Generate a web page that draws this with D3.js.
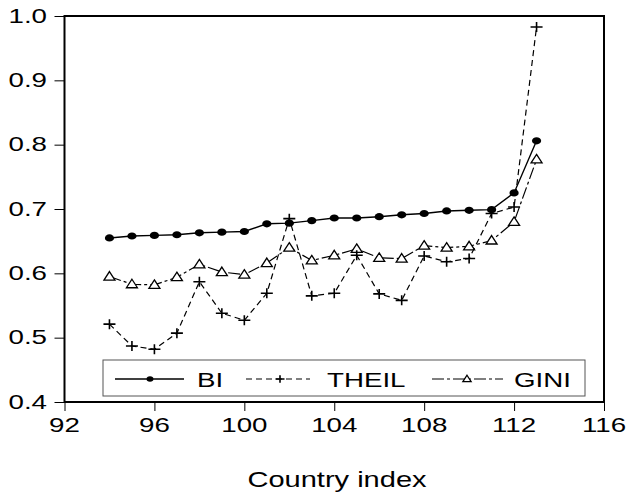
<!DOCTYPE html>
<html><head><meta charset="utf-8">
<script src="https://cdn.jsdelivr.net/npm/d3@7"></script>
<style>body{margin:0;background:#fff}</style>
</head><body>
<script>
const countryIndex = [94,95,96,97,98,99,100,101,102,103,104,105,106,107,108,109,110,111,112,113];
const BI    = [0.655,0.658,0.659,0.660,0.663,0.664,0.665,0.677,0.678,0.682,0.686,0.686,0.688,0.691,0.693,0.697,0.698,0.699,0.725,0.806];
const THEIL = [0.521,0.487,0.482,0.507,0.587,0.538,0.527,0.569,0.685,0.565,0.569,0.628,0.568,0.558,0.627,0.618,0.623,0.693,0.703,0.983];
const GINI  = [0.595,0.583,0.582,0.594,0.614,0.602,0.598,0.616,0.640,0.620,0.628,0.638,0.624,0.623,0.643,0.640,0.642,0.651,0.680,0.777];
const xTicks = [92,96,100,104,108,112,116];
const yTicks = [0.4,0.5,0.6,0.7,0.8,0.9,1.0];
const seriesNames = ["BI","THEIL","GINI"];

const W = 631, H = 495;
const SX = 1.32; // horizontal text stretch
const FONT = "Liberation Sans, Arial, sans-serif";
const svg = d3.select("body").append("svg").attr("width", W).attr("height", H);

const x = d3.scaleLinear().domain([92,116]).range([64.5,604]);
const y = d3.scaleLinear().domain([0.4,1.0]).range([402,16]);

function stext(g, tx, ty, str, anchor, size) {
  g.append("text")
    .attr("transform", `translate(${tx},${ty}) scale(${SX},1)`)
    .attr("text-anchor", anchor)
    .attr("font-family", FONT).attr("font-size", size).attr("fill", "#000")
    .text(str);
}

const gx = svg.append("g").attr("transform", `translate(0,${y(0.4)})`)
  .call(d3.axisBottom(x).tickValues(xTicks).tickSize(9).tickFormat(""));
const gy = svg.append("g").attr("transform", `translate(${x(92)},0)`)
  .call(d3.axisLeft(y).tickValues(yTicks).tickSize(10).tickFormat(""));
[gx, gy].forEach(g => { g.select(".domain").remove(); g.selectAll("line").attr("stroke","#000").attr("stroke-width",1); });

xTicks.forEach(t => stext(svg, x(t), 432, String(t), "middle", 21));
yTicks.forEach(t => stext(svg, 47, y(t) + 6.5, d3.format(".1f")(t), "end", 21));
stext(svg, 337, 487, "Country index", "middle", 22);

svg.append("rect").attr("x", x(92)).attr("y", y(1.0))
  .attr("width", x(116) - x(92)).attr("height", y(0.4) - y(1.0))
  .attr("fill", "none").attr("stroke", "#000").attr("stroke-width", 2);

const styles = {
  BI:    {dash: null, width: 1.4},
  THEIL: {dash: "6,4", width: 1.2},
  GINI:  {dash: "12,3,3,3", width: 1.2}
};
const dataMap = {BI, THEIL, GINI};

function marker(g, name, cx, cy, scale) {
  const s = scale || 1;
  if (name === "BI") {
    g.append("ellipse").attr("cx", cx).attr("cy", cy).attr("rx", 4.6*s).attr("ry", 3.6*s).attr("fill", "#000");
  } else if (name === "THEIL") {
    g.append("path").attr("d", `M${cx-6*s},${cy}H${cx+6*s}M${cx},${cy-5*s}V${cy+5*s}`)
      .attr("stroke", "#000").attr("stroke-width", 1.6).attr("fill", "none");
  } else {
    g.append("path").attr("d", `M${cx},${cy-5*s}L${cx+5.5*s},${cy+3.5*s}L${cx-5.5*s},${cy+3.5*s}Z`)
      .attr("stroke", "#000").attr("stroke-width", 1.3).attr("fill", "#fff");
  }
}

const line = d3.line().x(d => x(d[0])).y(d => y(d[1]));
["GINI","THEIL","BI"].forEach(name => {
  const pts = countryIndex.map((c, i) => [c, dataMap[name][i]]);
  svg.append("path").attr("d", line(pts)).attr("fill", "none")
    .attr("stroke", "#000").attr("stroke-width", styles[name].width)
    .attr("stroke-dasharray", styles[name].dash);
  const g = svg.append("g");
  pts.forEach(p => marker(g, name, x(p[0]), y(p[1])));
});

const lg = svg.append("g");
lg.append("rect").attr("x", 103).attr("y", 360).attr("width", 482).attr("height", 36)
  .attr("fill", "#fff").attr("stroke", "#555").attr("stroke-width", 1);
const legendItems = [
  {name: "BI", x1: 115, x2: 184, mx: 150, tx: 197},
  {name: "THEIL", x1: 246, x2: 310, mx: 280, tx: 327},
  {name: "GINI", x1: 432, x2: 503, mx: 467, tx: 514}
];
legendItems.forEach(it => {
  lg.append("line").attr("x1", it.x1).attr("x2", it.x2).attr("y1", 379).attr("y2", 379)
    .attr("stroke", "#000").attr("stroke-width", styles[it.name].width)
    .attr("stroke-dasharray", styles[it.name].dash);
  marker(lg, it.name, it.mx, 379, 0.75);
  stext(lg, it.tx, 386.5, it.name, "start", 21);
});
</script>
</body></html>
